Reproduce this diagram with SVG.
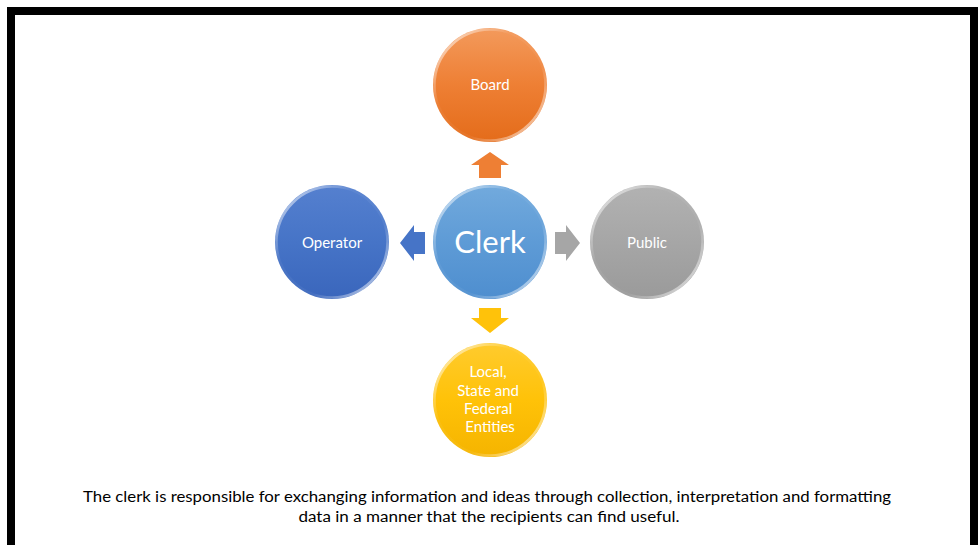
<svg xmlns="http://www.w3.org/2000/svg" width="980" height="545" viewBox="0 0 980 545">
  <defs>
    <linearGradient id="gOrange" x1="0" y1="0" x2="0" y2="1">
      <stop offset="0" stop-color="#F39A5C"/>
      <stop offset="0.5" stop-color="#EE7F34"/>
      <stop offset="1" stop-color="#E46C1A"/>
    </linearGradient>
    <linearGradient id="gClerk" x1="0" y1="0" x2="0" y2="1">
      <stop offset="0" stop-color="#72AADD"/>
      <stop offset="0.5" stop-color="#5E9BD6"/>
      <stop offset="1" stop-color="#4E8ECF"/>
    </linearGradient>
    <linearGradient id="gBlue" x1="0" y1="0" x2="0" y2="1">
      <stop offset="0" stop-color="#5580CF"/>
      <stop offset="0.5" stop-color="#4674C7"/>
      <stop offset="1" stop-color="#3A66BC"/>
    </linearGradient>
    <linearGradient id="gGray" x1="0" y1="0" x2="0" y2="1">
      <stop offset="0" stop-color="#B2B2B2"/>
      <stop offset="0.5" stop-color="#A6A6A6"/>
      <stop offset="1" stop-color="#9A9A9A"/>
    </linearGradient>
    <linearGradient id="gGold" x1="0" y1="0" x2="0" y2="1">
      <stop offset="0" stop-color="#FFCB2E"/>
      <stop offset="0.5" stop-color="#FFC208"/>
      <stop offset="1" stop-color="#F5B400"/>
    </linearGradient>
    <!-- bevel highlight: bright at upper-left and lower-right, fading between -->
    <linearGradient id="rim" x1="0" y1="0" x2="1" y2="1">
      <stop offset="0" stop-color="#FFFFFF" stop-opacity="0.8"/>
      <stop offset="0.35" stop-color="#FFFFFF" stop-opacity="0.05"/>
      <stop offset="0.65" stop-color="#FFFFFF" stop-opacity="0.05"/>
      <stop offset="1" stop-color="#FFFFFF" stop-opacity="0.8"/>
    </linearGradient>
    <filter id="soft" x="-10%" y="-10%" width="120%" height="120%">
      <feGaussianBlur stdDeviation="0.6"/>
    </filter>
  </defs>
  <style>
    .rim { fill: none; stroke: url(#rim); stroke-width: 2.5; filter: url(#soft); }
    .lbl { font-family: Lato, "Liberation Sans", sans-serif; fill: #FFFFFF; text-anchor: middle; }
    .cap { font-family: Lato, "Liberation Sans", sans-serif; fill: #000000; text-anchor: middle; font-size: 15.5px; }
  </style>

  <!-- page frame -->
  <rect x="0" y="0" width="980" height="545" fill="#FFFFFF"/>
  <path d="M11 549 V11 H974 V549" fill="none" stroke="#000000" stroke-width="8"/>

  <!-- arrows from the clerk -->
  <g id="connectors">
    <polygon points="490,152 509,165 501,165 501,178 479,178 479,165 471,165" fill="#EE7F34"/>
    <polygon points="400,243 414,225 414,232 425,232 425,254 414,254 414,261" fill="#4674C7"/>
    <polygon points="580,243 566,225 566,232 555,232 555,254 566,254 566,261" fill="#A6A6A6"/>
    <polygon points="490,333 509,318 501,318 501,308 479,308 479,318 471,318" fill="#FFC20A"/>
  </g>

  <g id="board">
    <circle cx="490" cy="85" r="57" fill="url(#gOrange)"/>
    <circle cx="490" cy="85" r="55.5" class="rim"/>
    <text x="490" y="90" class="lbl" font-size="15">Board</text>
  </g>

  <g id="clerk">
    <circle cx="490" cy="242" r="57" fill="url(#gClerk)"/>
    <circle cx="490" cy="242" r="55.5" class="rim"/>
    <text x="490" y="253" class="lbl" font-size="31">Clerk</text>
  </g>

  <g id="operator">
    <circle cx="332" cy="242" r="57" fill="url(#gBlue)"/>
    <circle cx="332" cy="242" r="55.5" class="rim"/>
    <text x="332" y="248" class="lbl" font-size="15">Operator</text>
  </g>

  <g id="public">
    <circle cx="647" cy="242" r="57" fill="url(#gGray)"/>
    <circle cx="647" cy="242" r="55.5" class="rim"/>
    <text x="647" y="248" class="lbl" font-size="15">Public</text>
  </g>

  <g id="entities">
    <circle cx="490" cy="400" r="57" fill="url(#gGold)"/>
    <circle cx="490" cy="400" r="55.5" class="rim"/>
    <text class="lbl" font-size="15">
      <tspan x="490" y="377">Local,</tspan>
      <tspan x="490" y="396">State and</tspan>
      <tspan x="490" y="414">Federal</tspan>
      <tspan x="490" y="432">Entities</tspan>
    </text>
  </g>

  <!-- caption -->
  <text class="cap">
    <tspan x="489" y="502" textLength="808" lengthAdjust="spacingAndGlyphs">The clerk is responsible for exchanging information and ideas through collection, interpretation and formatting</tspan>
    <tspan x="489" y="522" textLength="381" lengthAdjust="spacingAndGlyphs">data in a manner that the recipients can find useful.</tspan>
  </text>
</svg>
